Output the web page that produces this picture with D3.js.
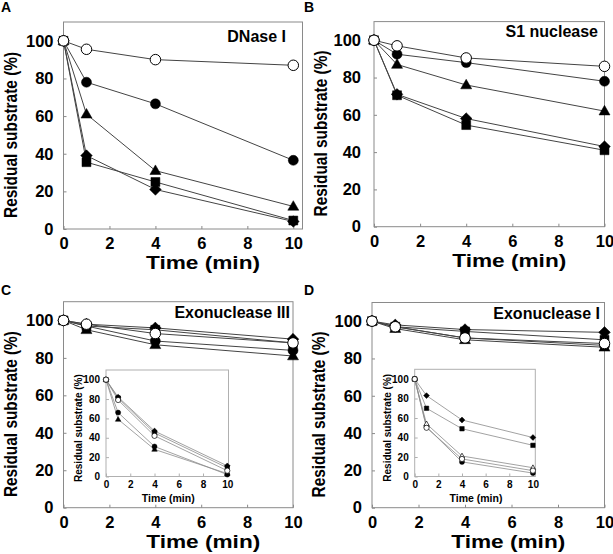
<!DOCTYPE html>
<html><head><meta charset="utf-8">
<script src="https://cdn.jsdelivr.net/npm/d3@7"></script>
<style>
body{margin:0;background:#fff}
text{font-family:"Liberation Sans",Arial,sans-serif;font-weight:bold;fill:#000}
</style>
</head><body>
<svg id="c" width="613" height="554"></svg>
<script>
// ---------- data ----------
const times = [0, 1, 4, 10];
const xTicks = [0, 2, 4, 6, 8, 10];
const yTicks = [0, 20, 40, 60, 80, 100];
const panelLetters = ["A", "B", "C", "D"];
const panelTitles = ["DNase I", "S1 nuclease", "Exonuclease III", "Exonuclease I"];
const xTitle = "Time (min)";
const yTitle = "Residual substrate (%)";

// A: DNase I
const dnaseCircle   = [100, 78, 66.5, 36.5];
const dnaseTriangle = [100, 61, 31, 12];
const dnaseDiamond  = [100, 39, 21, 4];
const dnaseSquare   = [100, 35.5, 25, 4.5];
const dnaseOpen     = [100, 95.5, 90, 87];
// B: S1 nuclease
const s1Circle   = [100, 92.5, 88, 78];
const s1Triangle = [100, 87, 76, 62];
const s1Diamond  = [100, 71, 58, 43];
const s1Square   = [100, 70.5, 54.5, 41];
const s1Open     = [100, 97, 90.5, 86];
// C: Exonuclease III (main)
const exo3Circle   = [100, 97, 89, 84];
const exo3Triangle = [100, 95, 87, 81];
const exo3Diamond  = [100, 98, 96, 90];
const exo3Square   = [100, 97, 95, 88];
const exo3Open     = [100, 98, 93, 88];
// C inset
const exo3InCircle   = [100, 66, 31, 2];
const exo3InTriangle = [100, 59, 28, 3];
const exo3InDiamond  = [100, 82, 47, 11];
const exo3InSquare   = [100, 81, 45, 9];
const exo3InOpen     = [100, 79, 42, 6];
// D: Exonuclease I (main)
const exo1Circle   = [100, 97, 91, 87];
const exo1Triangle = [100, 96, 90, 86];
const exo1Diamond  = [100, 98, 95.5, 94];
const exo1Square   = [100, 97, 94.5, 90];
const exo1Open     = [100, 97, 91, 88];
// D inset
const exo1InCircle     = [100, 51, 15, 3.5];
const exo1InOpenTri    = [100, 54, 21, 9];
const exo1InDiamond    = [100, 83, 58, 40];
const exo1InSquare     = [100, 70, 49, 32];
const exo1InOpen       = [100, 50, 18, 6];

// ---------- drawing ----------
const svg = d3.select("#c");

function markerPath(kind, s) {
  if (kind === "circle") return d3.symbol(d3.symbolCircle, Math.PI * (s/2) * (s/2))();
  if (kind === "square") return d3.symbol(d3.symbolSquare, s * s * 0.8)();
  if (kind === "triangle") {
    const w = s * 1.1, h = w * 0.87;
    return `M0,${-h*0.6}L${w/2},${h*0.4}L${-w/2},${h*0.4}Z`;
  }
  if (kind === "diamond") {
    const r = s * 0.58;
    return `M0,${-r}L${r},0L0,${r}L${-r},0Z`;
  }
}

function drawPlot(g, p, series) {
  const x = d3.scaleLinear().domain([0, p.xMax]).range([p.left, p.right]);
  const y = d3.scaleLinear().domain([0, 110]).range([p.bottom, p.top]);

  g.append("rect")
    .attr("x", p.left).attr("y", p.top)
    .attr("width", p.right - p.left).attr("height", p.bottom - p.top)
    .attr("fill", "#fff").attr("stroke", p.frame).attr("stroke-width", 1);

  const xa = g.append("g").attr("transform", `translate(0,${p.bottom})`)
    .call(d3.axisBottom(x).tickValues(xTicks).tickSizeInner(-3).tickSizeOuter(0).tickPadding(p.xPad));
  const ya = g.append("g").attr("transform", `translate(${p.left},0)`)
    .call(d3.axisLeft(y).tickValues(yTicks).tickSizeInner(-3).tickSizeOuter(0).tickPadding(p.yPad));
  [xa, ya].forEach(a => {
    a.select(".domain").remove();
    a.selectAll(".tick line").attr("stroke", p.frame);
    a.selectAll("text").attr("font-size", p.tickFont)
      .style("font-family", '"Liberation Sans",Arial,sans-serif').style("font-weight", "bold").attr("fill", "#000");
  });

  // axis titles
  const xt = g.append("text").attr("x", (p.left + p.right) / 2 + (p.xtDx || 0)).attr("y", p.bottom + p.xtDy)
    .attr("text-anchor", "middle").attr("font-size", p.xtFont).text(xTitle);
  if (p.xtLen) xt.attr("textLength", p.xtLen).attr("lengthAdjust", "spacingAndGlyphs");
  const ycx = p.left - p.ytDx, ycy = (y(0) + y(100)) / 2;
  const yt = g.append("text").attr("transform", `translate(${ycx},${ycy}) rotate(-90)`)
    .attr("text-anchor", "middle").attr("font-size", p.ytFont).text(yTitle);
  if (p.ytLen) yt.attr("textLength", p.ytLen).attr("lengthAdjust", "spacingAndGlyphs");

  const line = d3.line().x((d, i) => x(times[i])).y(d => y(d));
  series.forEach(s => {
    g.append("path").attr("d", line(s.v)).attr("fill", "none")
      .attr("stroke", p.lineColor).attr("stroke-width", p.lineWidth);
  });
  series.forEach(s => {
    g.selectAll(null).data(s.v).enter().append("path")
      .attr("transform", (d, i) => `translate(${x(times[i])},${y(d)})`)
      .attr("d", markerPath(s.m, p.mk * (s.m === "circle" && s.open ? 1.05 : 1)))
      .attr("fill", s.open ? "#fff" : "#000")
      .attr("stroke", "#000").attr("stroke-width", s.open ? p.openStroke : 0.5);
  });
}

const mainStyle = {frame: "#8a8a8a", tickFont: 16.5, xPad: 8.5, yPad: 10, xtFont: 19, xtDy: 40, xtDx: 20, xtLen: 114,
  ytFont: 18, ytLen: 166, ytDx: 47, lineColor: "#444", lineWidth: 1, mk: 10, openStroke: 1};
const insetStyle = {frame: "#b0b0b0", tickFont: 10, xPad: 4.5, yPad: 6, xtFont: 10.5, xtDy: 25, xtDx: 1,
  ytFont: 10, ytDx: 24, lineColor: "#8a8a8a", lineWidth: 0.8, mk: 5, openStroke: 0.7};

const panels = [
  {pos: {left: 63.5, right: 302.5, top: 22, bottom: 229, xMax: 10.4}, ltr: [1, 12], title: [286, 42],
   series: [
     {v: dnaseCircle, m: "circle"}, {v: dnaseTriangle, m: "triangle"}, {v: dnaseDiamond, m: "diamond"},
     {v: dnaseSquare, m: "square"}, {v: dnaseOpen, m: "circle", open: true}]},
  {pos: {left: 374, right: 604.5, top: 21.6, bottom: 226.7, xMax: 10, yPad: 13}, ltr: [304, 12], title: [598, 37],
   series: [
     {v: s1Circle, m: "circle"}, {v: s1Triangle, m: "triangle"}, {v: s1Diamond, m: "diamond"},
     {v: s1Square, m: "square"}, {v: s1Open, m: "circle", open: true}]},
  {pos: {left: 63.5, right: 293, top: 301.7, bottom: 507.7, xMax: 10, xtDx: 25}, ltr: [1, 295], title: [290, 318],
   series: [
     {v: exo3Circle, m: "circle"}, {v: exo3Triangle, m: "triangle"}, {v: exo3Diamond, m: "diamond"},
     {v: exo3Square, m: "square"}, {v: exo3Open, m: "circle", open: true}],
   inset: {pos: {left: 106, right: 228.5, top: 370, bottom: 476.5, xMax: 10.1},
     series: [
       {v: exo3InCircle, m: "circle"}, {v: exo3InTriangle, m: "triangle"}, {v: exo3InDiamond, m: "diamond"},
       {v: exo3InSquare, m: "square"}, {v: exo3InOpen, m: "circle", open: true}]}},
  {pos: {left: 372, right: 604.5, top: 302.5, bottom: 507.7, xMax: 10}, ltr: [304, 295], title: [600, 319],
   series: [
     {v: exo1Circle, m: "circle"}, {v: exo1Triangle, m: "triangle"}, {v: exo1Diamond, m: "diamond"},
     {v: exo1Square, m: "square"}, {v: exo1Open, m: "circle", open: true}],
   inset: {pos: {left: 414.7, right: 535.3, top: 369.3, bottom: 476.5, xMax: 10.2},
     series: [
       {v: exo1InCircle, m: "circle"}, {v: exo1InDiamond, m: "diamond"}, {v: exo1InSquare, m: "square"},
       {v: exo1InOpenTri, m: "triangle", open: true}, {v: exo1InOpen, m: "circle", open: true}]}}
];

panels.forEach((P, i) => {
  const g = svg.append("g");
  drawPlot(g, Object.assign({}, mainStyle, P.pos), P.series);
  g.append("text").attr("x", P.title[0]).attr("y", P.title[1]).attr("text-anchor", "end")
    .attr("font-size", 16).text(panelTitles[i]);
  g.append("text").attr("x", P.ltr[0]).attr("y", P.ltr[1]).attr("font-size", 14).text(panelLetters[i]);
  if (P.inset) drawPlot(svg.append("g"), Object.assign({}, insetStyle, P.inset.pos), P.inset.series);
});
</script>
</body></html>
